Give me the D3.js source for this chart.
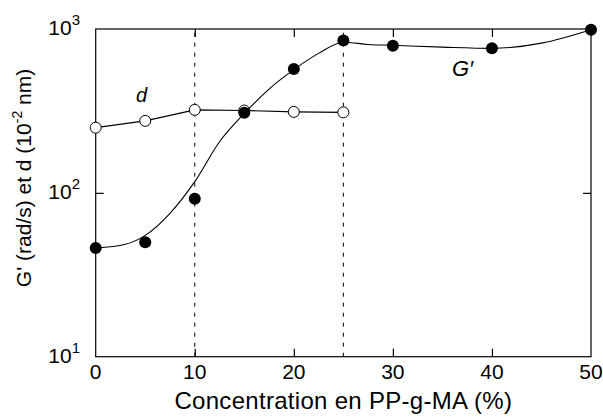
<!DOCTYPE html>
<html><head><meta charset="utf-8">
<script src="https://cdn.jsdelivr.net/npm/d3@7/dist/d3.min.js"></script>
<style>body{margin:0;background:#fff}svg{display:block;font-family:"Liberation Sans",Arial,sans-serif}</style>
</head><body>
<svg id="c" width="603" height="418"></svg>
<script>
// Data
const conc = [0, 5, 10, 15, 20, 25, 30, 40, 50];
const gPrime = [46, 50, 92, 308, 570, 852, 791, 762, 990];
const dConc = [0, 5, 10, 15, 20, 25];
const dValues = [250, 275, 321, 318, 312, 310];
// smooth guide curve drawn through G'
const fitConc = [0, 3, 5, 7.5, 10, 12.5, 15, 17.5, 20, 22.5, 25, 27.5, 30, 35, 40, 45, 50];
const fitG = [46, 48.5, 55, 75, 117, 205, 305, 430, 565, 710, 830, 805, 795, 775, 762, 820, 990];
const xTicks = [0, 10, 20, 30, 40, 50];
const yTicks = [10, 100, 1000];
const yTickExp = ["1", "2", "3"];
const refLines = [10, 25];

const svg = d3.select("#c");
const L = 95.7, R = 591, T = 29, B = 356.7;
const x = d3.scaleLinear().domain([0, 50]).range([L, R]);
const y = d3.scaleLog().domain([10, 1000]).range([B, T]);

// dotted reference lines
svg.selectAll(".ref").data(refLines).enter().append("line")
  .attr("x1", d => x(d)).attr("x2", d => x(d)).attr("y1", B).attr("y2", T)
  .attr("stroke", "#000").attr("stroke-width", 1).attr("stroke-dasharray", "4,6");

// frame
svg.append("rect").attr("x", L).attr("y", T).attr("width", R - L).attr("height", B - T)
  .attr("fill", "none").attr("stroke", "#000").attr("stroke-width", 1.2);

// ticks (inward)
const tl = 8;
const xAxisB = d3.axisBottom(x).tickValues(xTicks.filter(v => v > 0 && v < 50)).tickSize(-tl).tickFormat("");
const xAxisT = d3.axisTop(x).tickValues(xTicks.filter(v => v > 0 && v < 50)).tickSize(-tl).tickFormat("");
const yAxisL = d3.axisLeft(y).tickValues([100]).tickSize(-tl).tickFormat("");
const yAxisR = d3.axisRight(y).tickValues([100]).tickSize(-tl).tickFormat("");
[[xAxisB, `translate(0,${B})`], [xAxisT, `translate(0,${T})`], [yAxisL, `translate(${L},0)`], [yAxisR, `translate(${R},0)`]]
  .forEach(([ax, tr]) => {
    const g = svg.append("g").attr("transform", tr).call(ax);
    g.select(".domain").remove();
    g.selectAll("line").attr("stroke", "#000").attr("stroke-width", 1.2);
  });

// x tick labels
svg.selectAll(".xl").data(xTicks).enter().append("text")
  .attr("x", d => x(d)).attr("y", 379).attr("text-anchor", "middle")
  .attr("font-size", 21).text(d => d);

// y tick labels
yTicks.forEach((v, i) => {
  const t = svg.append("text").attr("x", 80).attr("y", y(v) + 6).attr("text-anchor", "end").attr("font-size", 21);
  t.append("tspan").text("10");
  t.append("tspan").attr("font-size", 15).attr("dy", -10).text(yTickExp[i]);
});

// axis titles
svg.append("text").attr("x", x(25)).attr("y", 409).attr("text-anchor", "middle")
  .attr("font-size", 24).attr("letter-spacing", 0.3).text("Concentration en PP-g-MA (%)");
const yl = svg.append("text").attr("transform", "translate(31,178) rotate(-90)")
  .attr("text-anchor", "middle").attr("font-size", 21);
yl.append("tspan").text("G' (rad/s) et d (10");
yl.append("tspan").attr("font-size", 14).attr("dy", -9).text("-2");
yl.append("tspan").attr("dy", 9).text(" nm)");

// d series
const dPts = dConc.map((c, i) => [c, dValues[i]]);
svg.append("path").datum(dPts)
  .attr("d", d3.line().x(d => x(d[0])).y(d => y(d[1])))
  .attr("fill", "none").attr("stroke", "#000").attr("stroke-width", 1.1);
svg.selectAll(".dp").data(dPts).enter().append("circle")
  .attr("cx", d => x(d[0])).attr("cy", d => y(d[1])).attr("r", 5.5)
  .attr("fill", "#fff").attr("stroke", "#000").attr("stroke-width", 1);

// G' fit curve
const fitPts = fitConc.map((c, i) => [c, fitG[i]]);
svg.append("path").datum(fitPts)
  .attr("d", d3.line().curve(d3.curveMonotoneX).x(d => x(d[0])).y(d => y(d[1])))
  .attr("fill", "none").attr("stroke", "#000").attr("stroke-width", 1.1);
const gPts = conc.map((c, i) => [c, gPrime[i]]);
svg.selectAll(".gp").data(gPts).enter().append("circle")
  .attr("cx", d => x(d[0])).attr("cy", d => y(d[1])).attr("r", 6)
  .attr("fill", "#000");

// series labels
svg.append("text").attr("x", 136).attr("y", 101.5).attr("font-size", 20).attr("font-style", "italic").text("d");
svg.append("text").attr("x", 452).attr("y", 76).attr("font-size", 22).attr("font-style", "italic").text("G′");
</script>
</body></html>
